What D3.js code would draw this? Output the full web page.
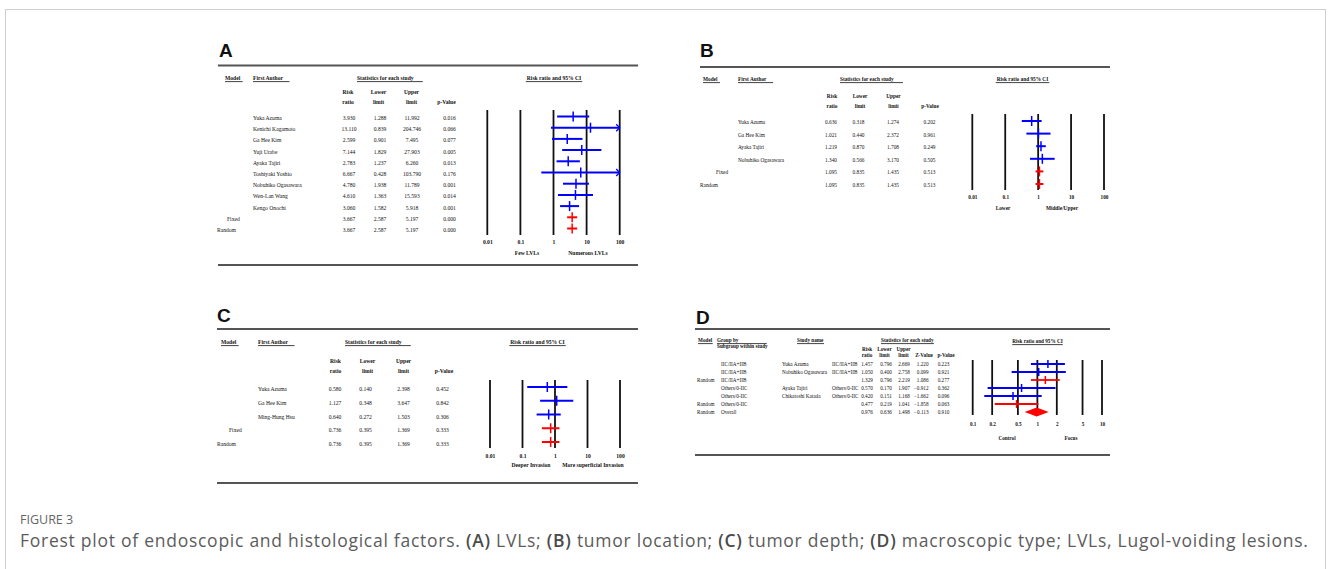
<!DOCTYPE html>
<html>
<head>
<meta charset="utf-8">
<script src="https://cdn.jsdelivr.net/npm/d3@7"></script>
<style>
  body { margin: 0; background: #fff; }
  svg { display: block; }
</style>
</head>
<body>
<svg id="fig" width="1331" height="569"></svg>
<script>
// ---- panel A: LVLs ----
const modelA = ["", "", "", "", "", "", "", "", "", "Fixed", "Random"];
const authorsA = ["Yuka Azuma", "Kenichi Kagamoto", "Ga Hee Kim", "Yuji Urabe", "Ayaka Tajiri",
    "Toshiyaki Yoshio", "Nobuhiko Ogasawara", "Wen-Lan Wang", "Kengo Onochi", "", ""];
const riskA = [3.930, 13.110, 2.599, 7.144, 2.783, 6.667, 4.780, 4.610, 3.060, 3.667, 3.667];
const lowerA = [1.288, 0.839, 0.901, 1.829, 1.237, 0.428, 1.938, 1.363, 1.582, 2.587, 2.587];
const upperA = [11.992, 204.746, 7.495, 27.903, 6.260, 103.790, 11.789, 15.593, 5.918, 5.197, 5.197];
const pA = [0.016, 0.066, 0.077, 0.005, 0.013, 0.176, 0.001, 0.014, 0.001, 0.000, 0.000];
const footA = ["Few LVLs", "Numerous LVLs"];

// ---- panel B: tumor location ----
const modelB = ["", "", "", "", "Fixed", "Random"];
const authorsB = ["Yuka Azuma", "Ga Hee Kim", "Ayaka Tajiri", "Nobuhiko Ogasawara", "", ""];
const riskB = [0.636, 1.021, 1.219, 1.340, 1.095, 1.095];
const lowerB = [0.318, 0.440, 0.870, 0.566, 0.835, 0.835];
const upperB = [1.274, 2.372, 1.708, 3.170, 1.435, 1.435];
const pB = [0.202, 0.961, 0.249, 0.505, 0.513, 0.513];
const footB = ["Lower", "Middle/Upper"];

// ---- panel C: tumor depth ----
const modelC = ["", "", "", "Fixed", "Random"];
const authorsC = ["Yuka Azuma", "Ga Hee Kim", "Ming-Hung Hsu", "", ""];
const riskC = [0.580, 1.127, 0.640, 0.736, 0.736];
const lowerC = [0.140, 0.348, 0.272, 0.395, 0.395];
const upperC = [2.398, 3.647, 1.503, 1.369, 1.369];
const pC = [0.452, 0.842, 0.306, 0.333, 0.333];
const footC = ["Deeper Invasion", "More superficial Invasion"];

// ---- panel D: macroscopic type ----
const modelD = ["", "", "Random", "", "", "Random", "Random"];
const groupD = ["IIC/IIA+IIB", "IIC/IIA+IIB", "IIC/IIA+IIB", "Others/0-IIC", "Others/0-IIC", "Others/0-IIC", "Overall"];
const studyD = ["Yuka Azuma", "Nobuhiko Ogasawara", "", "Ayaka Tajiri", "Chikatoshi Katada", "", ""];
const subgroupD = ["IIC/IIA+IIB", "IIC/IIA+IIB", "", "Others/0-IIC", "Others/0-IIC", "", ""];
const riskD = [1.457, 1.050, 1.329, 0.570, 0.420, 0.477, 0.976];
const lowerD = [0.796, 0.400, 0.796, 0.170, 0.151, 0.219, 0.636];
const upperD = [2.669, 2.758, 2.219, 1.907, 1.168, 1.041, 1.498];
const zD = [1.220, 0.099, 1.086, -0.912, -1.662, -1.858, -0.113];
const pD = [0.223, 0.921, 0.277, 0.362, 0.096, 0.063, 0.910];
const kindD = ["study", "study", "pooled", "study", "study", "pooled", "overall"];
const footD = ["Control", "Focus"];

const ticksABC = [0.01, 0.1, 1, 10, 100];
const ticksD = [0.1, 0.2, 0.5, 1, 2, 5, 10];

const serif = "'Liberation Serif','Times New Roman',Times,serif";
const sans = "'Liberation Sans',Arial,Helvetica,sans-serif";
const BLUE = "#0000ff";
const RED = "#ff0000";
const fmt = d3.format(".3f");

const svg = d3.select("#fig");

// outer frame
svg.append("rect")
    .attr("x", 5.5).attr("y", 9.5)
    .attr("width", 1320).attr("height", 620)
    .attr("fill", "#fff")
    .attr("stroke", "#cfcfcf");

function txt(g, x, y, s, o = {}) {
    return g.append("text")
        .attr("x", x).attr("y", y)
        .attr("dominant-baseline", "central")
        .attr("font-family", serif)
        .attr("font-size", o.size || 5.6)
        .attr("font-weight", o.bold ? 700 : 400)
        .attr("text-anchor", o.anchor || "start")
        .attr("fill", "#111")
        .text(s);
}

function underline(g, t, padL, padR) {
    const bb = t.node().getBBox();
    g.append("line")
        .attr("x1", bb.x - padL).attr("x2", bb.x + bb.width + padR)
        .attr("y1", bb.y + bb.height + 0.6).attr("y2", bb.y + bb.height + 0.6)
        .attr("stroke", "#111").attr("stroke-width", 0.8);
}

function frame(g, c) {
    g.append("text")
        .attr("x", c.letterX).attr("y", c.letterY)
        .attr("font-family", sans).attr("font-weight", 700).attr("font-size", 19)
        .attr("fill", "#111")
        .text(c.letter);
    [c.ruleTop, c.ruleBottom].filter((v) => v != null).forEach((y) => {
        g.append("line")
            .attr("x1", c.left).attr("x2", c.right)
            .attr("y1", y).attr("y2", y)
            .attr("stroke", "#555").attr("stroke-width", 2.2);
    });
}

function drawGrid(g, c, x, ticks) {
    g.append("g")
        .selectAll("line")
        .data(ticks)
        .join("line")
        .attr("x1", (d) => x(d)).attr("x2", (d) => x(d))
        .attr("y1", c.gridY[0]).attr("y2", c.gridY[1])
        .attr("stroke", "#111").attr("stroke-width", 1.8);

    const axis = g.append("g")
        .attr("transform", `translate(0, ${c.tickY})`)
        .call(d3.axisBottom(x).tickValues(ticks).tickFormat((d) => String(d)).tickSize(0).tickPadding(0));
    axis.select(".domain").remove();
    axis.selectAll("text")
        .attr("font-family", serif)
        .attr("font-size", c.size)
        .attr("font-weight", 700)
        .attr("fill", "#111")
        .attr("dy", "0.32em");

    c.foot.forEach((s, i) => txt(g, c.footX[i], c.footY, s, { size: c.size, bold: true, anchor: "middle" }));
}

function drawMarker(g, x, y, lo, est, hi, colour, c) {
    const [d0, d1] = x.domain();
    const clamp = (v) => Math.max(d0, Math.min(d1, v));
    g.append("line")
        .attr("x1", x(clamp(lo))).attr("x2", x(clamp(hi)))
        .attr("y1", y).attr("y2", y)
        .attr("stroke", colour).attr("stroke-width", c.lineW);
    g.append("line")
        .attr("x1", x(est)).attr("x2", x(est))
        .attr("y1", y - c.tickH).attr("y2", y + c.tickH)
        .attr("stroke", colour).attr("stroke-width", 1.5);
    if (hi > d1) {
        const xe = x(d1);
        g.append("path")
            .attr("d", `M${xe - 3.5},${y - 3.5}L${xe},${y}L${xe - 3.5},${y + 3.5}`)
            .attr("fill", "none").attr("stroke", colour).attr("stroke-width", 1.3);
    }
    if (lo < d0) {
        const xs = x(d0);
        g.append("path")
            .attr("d", `M${xs + 3.5},${y - 3.5}L${xs},${y}L${xs + 3.5},${y + 3.5}`)
            .attr("fill", "none").attr("stroke", colour).attr("stroke-width", 1.3);
    }
}

function drawPanel(c) {
    const g = svg.append("g");
    frame(g, c);
    const s = c.size;

    // header
    underline(g, txt(g, c.modelX, c.headY, "Model", { size: s, bold: true }), 0, 2);
    underline(g, txt(g, c.authorX, c.headY, "First Author", { size: s, bold: true }), 0, 6);
    underline(g, txt(g, c.statsX, c.headY, "Statistics for each study", { size: s, bold: true }), 0, 9);
    underline(g, txt(g, c.titleX, c.headY, "Risk ratio and 95% CI", { size: s, bold: true, anchor: "middle" }), 1, 1);

    const hx = c.headColX;
    txt(g, hx.risk, c.subY[0], "Risk", { size: s, bold: true, anchor: "middle" });
    txt(g, hx.risk, c.subY[1], "ratio", { size: s, bold: true, anchor: "middle" });
    txt(g, hx.lower, c.subY[0], "Lower", { size: s, bold: true, anchor: "middle" });
    txt(g, hx.lower, c.subY[1], "limit", { size: s, bold: true, anchor: "middle" });
    txt(g, hx.upper, c.subY[0], "Upper", { size: s, bold: true, anchor: "middle" });
    txt(g, hx.upper, c.subY[1], "limit", { size: s, bold: true, anchor: "middle" });
    txt(g, hx.p, c.subY[1], "p-Value", { size: s, bold: true, anchor: "middle" });

    const r = c.rows;
    const n = r.risk.length;
    const y = d3.scaleLinear().domain([0, n - 1]).range(c.rowY);
    const x = d3.scaleLog().domain(c.domain).range(c.xRange);

    drawGrid(g, c, x, ticksABC);

    for (let i = 0; i < n; i++) {
        const yy = y(i);
        if (r.model[i] === "Fixed") txt(g, c.fixedX, yy, "Fixed", { size: s });
        if (r.model[i] === "Random") txt(g, c.randomX, yy, "Random", { size: s });
        if (r.author[i]) txt(g, c.authorX, yy, r.author[i], { size: s });
        const vx = c.colX;
        txt(g, vx.risk, yy, fmt(r.risk[i]), { size: s, anchor: "middle" });
        txt(g, vx.lower, yy, fmt(r.lower[i]), { size: s, anchor: "middle" });
        txt(g, vx.upper, yy, fmt(r.upper[i]), { size: s, anchor: "middle" });
        txt(g, vx.p, yy, fmt(r.p[i]), { size: s, anchor: "middle" });
        const colour = r.model[i] ? RED : BLUE;
        drawMarker(g, x, yy + c.markDy, r.lower[i], r.risk[i], r.upper[i], colour, c);
    }
}

drawPanel({
    letter: "A", letterX: 219, letterY: 57, left: 218, right: 638, ruleTop: 65.5, ruleBottom: 265,
    size: 5.6, headY: 78, subY: [92, 102],
    modelX: 225, authorX: 253, statsX: 357, titleX: 554,
    headColX: { risk: 348, lower: 378.5, upper: 411.5, p: 446.5 },
    colX: { risk: 349, lower: 380, upper: 412, p: 449.5 },
    rowY: [118, 230], markDy: -1.5, fixedX: 227, randomX: 217,
    domain: [0.01, 100], xRange: [487.3, 619.7], gridY: [110, 235], tickY: 242,
    foot: footA, footX: [527, 588], footY: 253, tickH: 5, lineW: 2.0,
    rows: { model: modelA, author: authorsA, risk: riskA, lower: lowerA, upper: upperA, p: pA }
});

drawPanel({
    letter: "B", letterX: 700, letterY: 57, left: 700, right: 1110, ruleTop: 67, ruleBottom: null,
    size: 5.3, headY: 79, subY: [96, 106],
    modelX: 703, authorX: 738, statsX: 840, titleX: 1022.5,
    headColX: { risk: 832, lower: 860, upper: 893.5, p: 930 },
    colX: { risk: 831, lower: 858.5, upper: 893, p: 929.5 },
    rowY: [122, 185], markDy: -1, fixedX: 716, randomX: 700,
    domain: [0.01, 100], xRange: [972.3, 1104], gridY: [114, 190], tickY: 197,
    foot: footB, footX: [1003, 1062], footY: 208, tickH: 5, lineW: 2.0,
    rows: { model: modelB, author: authorsB, risk: riskB, lower: lowerB, upper: upperB, p: pB }
});

drawPanel({
    letter: "C", letterX: 217, letterY: 322, left: 217, right: 638, ruleTop: 329, ruleBottom: 483,
    size: 5.6, headY: 342, subY: [361, 371],
    modelX: 221, authorX: 258, statsX: 345, titleX: 537.5,
    headColX: { risk: 335.5, lower: 367.5, upper: 403.5, p: 444 },
    colX: { risk: 335, lower: 365.5, upper: 403.5, p: 442.5 },
    rowY: [389, 444], markDy: -2, fixedX: 229, randomX: 217,
    domain: [0.01, 100], xRange: [490, 620], gridY: [380, 448], tickY: 456,
    foot: footC, footX: [531, 593], footY: 465, tickH: 5, lineW: 2.0,
    rows: { model: modelC, author: authorsC, risk: riskC, lower: lowerC, upper: upperC, p: pC }
});

// ---- panel D ----
(function drawD() {
    const c = {
        letter: "D", letterX: 696, letterY: 324, left: 695, right: 1110, ruleTop: 329, ruleBottom: 455,
        size: 5.2, gridY: [360, 415], tickY: 424, foot: footD, footX: [1007, 1071], footY: 438,
        tickH: 4, lineW: 1.8
    };
    const g = svg.append("g");
    frame(g, c);
    const s = c.size;

    underline(g, txt(g, 698, 340, "Model", { size: s, bold: true }), 0, 0);
    underline(g, txt(g, 717, 340, "Group by", { size: s, bold: true }), 0, 28);
    txt(g, 717, 346, "Subgroup within study", { size: s, bold: true });
    underline(g, txt(g, 797, 340, "Study name", { size: s, bold: true }), 0, 0);
    underline(g, txt(g, 881, 340, "Statistics for each study", { size: s, bold: true }), 0, 0);
    underline(g, txt(g, 1037.5, 341, "Risk ratio and 95% CI", { size: s, bold: true, anchor: "middle" }), 0, 0);

    txt(g, 867, 349, "Risk", { size: s, bold: true, anchor: "middle" });
    txt(g, 867, 354.5, "ratio", { size: s, bold: true, anchor: "middle" });
    txt(g, 884.5, 349, "Lower", { size: s, bold: true, anchor: "middle" });
    txt(g, 884.5, 354.5, "limit", { size: s, bold: true, anchor: "middle" });
    txt(g, 903.5, 349, "Upper", { size: s, bold: true, anchor: "middle" });
    txt(g, 903.5, 354.5, "limit", { size: s, bold: true, anchor: "middle" });
    txt(g, 924, 354.5, "Z-Value", { size: s, bold: true, anchor: "middle" });
    txt(g, 946, 354.5, "p-Value", { size: s, bold: true, anchor: "middle" });

    const n = riskD.length;
    const y = d3.scaleLinear().domain([0, n - 1]).range([364, 412]);
    const x = d3.scaleLog().domain([0.1, 10]).range([972.7, 1102]);

    drawGrid(g, c, x, ticksD);

    for (let i = 0; i < n; i++) {
        const yy = y(i);
        if (modelD[i]) txt(g, 697, yy, modelD[i], { size: s });
        txt(g, 721, yy, groupD[i], { size: s });
        if (studyD[i]) txt(g, 782, yy, studyD[i], { size: s });
        if (subgroupD[i]) txt(g, 832, yy, subgroupD[i], { size: s });
        txt(g, 867, yy, fmt(riskD[i]), { size: s, anchor: "middle" });
        txt(g, 886, yy, fmt(lowerD[i]), { size: s, anchor: "middle" });
        txt(g, 904, yy, fmt(upperD[i]), { size: s, anchor: "middle" });
        txt(g, 928.5, yy, fmt(zD[i]), { size: s, anchor: "end" });
        txt(g, 943.5, yy, fmt(pD[i]), { size: s, anchor: "middle" });

        if (kindD[i] === "overall") {
            g.append("path")
                .attr("d", `M${x(lowerD[i])},${yy}L${x(riskD[i])},${yy - 4.5}L${x(upperD[i])},${yy}L${x(riskD[i])},${yy + 4.5}Z`)
                .attr("fill", RED);
        } else {
            drawMarker(g, x, yy, lowerD[i], riskD[i], upperD[i], kindD[i] === "pooled" ? RED : BLUE, c);
        }
    }
})();

// ---- caption ----
svg.append("text")
    .attr("x", 20).attr("y", 523.5)
    .attr("font-family", "'Open Sans', 'Noto Sans', sans-serif")
    .attr("font-size", 12.5)
    .attr("fill", "#666")
    .text("FIGURE 3");

const cap = svg.append("text")
    .attr("x", 20).attr("y", 547)
    .attr("font-family", "'Open Sans', 'Noto Sans', sans-serif")
    .attr("font-size", 17.5)
    .attr("letter-spacing", 0.74)
    .attr("fill", "#5c5c5c");
const capParts = [
    ["Forest plot of endoscopic and histological factors. ", false],
    ["(A)", true], [" LVLs; ", false],
    ["(B)", true], [" tumor location; ", false],
    ["(C)", true], [" tumor depth; ", false],
    ["(D)", true], [" macroscopic type; LVLs, Lugol-voiding lesions.", false]
];
capParts.forEach(([t, b]) => {
    cap.append("tspan")
        .attr("font-weight", b ? 600 : 400)
        .attr("fill", b ? "#4a4a4a" : "#5c5c5c")
        .text(t);
});
</script>
</body>
</html>
